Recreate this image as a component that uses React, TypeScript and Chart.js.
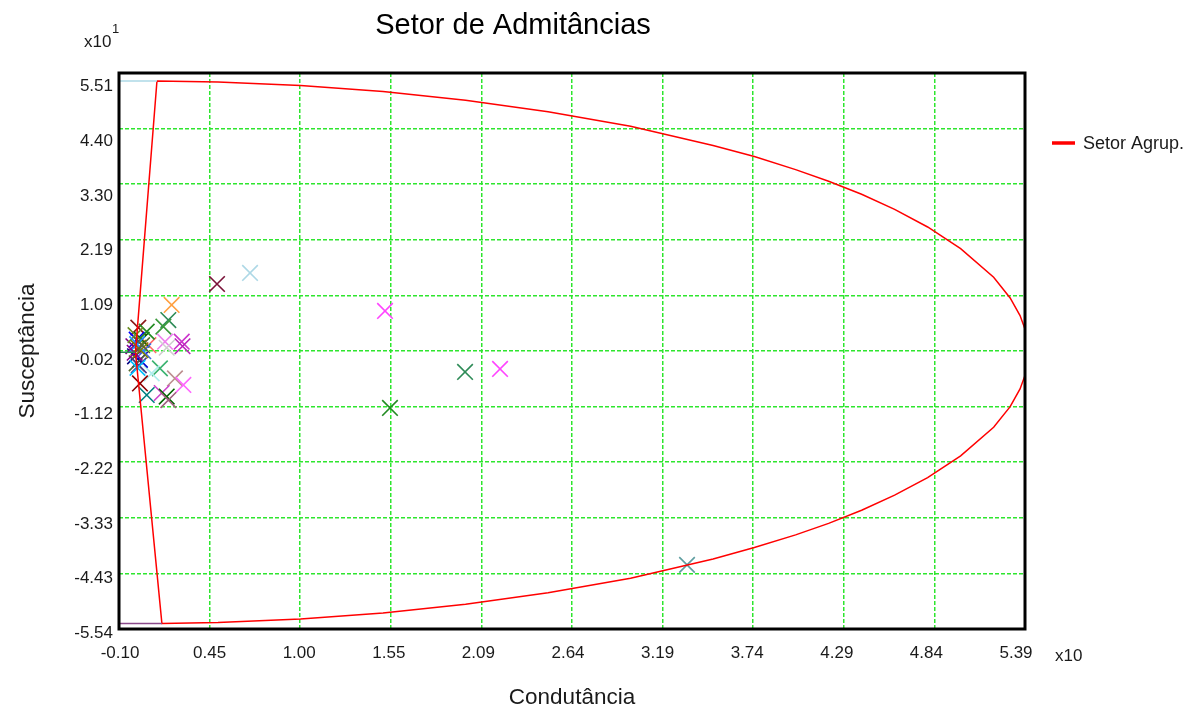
import React, { useEffect, useRef } from 'react';
import { Chart, registerables } from 'chart.js';

Chart.register(...registerables);

const FONT = "'Liberation Sans', Arial, sans-serif";

const X_MIN = -0.1;
const X_MAX = 5.39;
const Y_MIN = -5.54;
const Y_MAX = 5.51;

const xTickLabels = ['-0.10', '0.45', '1.00', '1.55', '2.09', '2.64', '3.19', '3.74', '4.29', '4.84', '5.39'];
const yTickLabels = ['5.51', '4.40', '3.30', '2.19', '1.09', '-0.02', '-1.12', '-2.22', '-3.33', '-4.43', '-5.54'];

const chartTitle = 'Setor de Admitâncias';
const xAxisTitle = 'Condutância';
const yAxisTitle = 'Susceptância';
const seriesName = 'Setor Agrup.';

// Sector outline (Setor Agrup.): upper arc, lower arc, then the two straight sides
const sectorX = [
  0.13, 0.5, 1.0, 1.5, 2.0, 2.5, 3.0, 3.5, 3.75, 4.0, 4.2, 4.4, 4.6, 4.8, 5.0, 5.2, 5.3, 5.36, 5.39, 5.41,
  5.39, 5.36, 5.3, 5.2, 5.0, 4.8, 4.6, 4.4, 4.2, 4.0, 3.75, 3.5, 3.0, 2.5, 2.0, 1.5, 1.0, 0.5, 0.16,
  0.0, 0.13,
];
const sectorY = [
  5.35, 5.33, 5.26, 5.14, 4.97, 4.74, 4.45, 4.07, 3.85, 3.59, 3.36, 3.1, 2.8, 2.45, 2.02, 1.45, 1.04, 0.69, 0.42, -0.04,
  -0.5, -0.77, -1.12, -1.53, -2.1, -2.53, -2.88, -3.18, -3.44, -3.67, -3.92, -4.15, -4.53, -4.82, -5.05, -5.22, -5.34, -5.41, -5.43,
  -0.04, 5.35,
];

// short reference lines at the left border
const topLineX = [-0.1, 0.13];
const topLineY = [5.35, 5.35];
const bottomLineX = [-0.1, 0.16];
const bottomLineY = [-5.43, -5.43];
const midLineX = [-0.1, 0.0];
const midLineY = [-0.04, -0.04];

// Admittance markers
const markerX = [
  0.494, 0.694, 1.512, 1.997, 2.209, 1.542, 3.342,
  0.219, 0.199, 0.169, 0.179, 0.189, 0.28, 0.285, 0.078, 0.148, 0.098, 0.239, 0.29, 0.027, 0.068, 0.159, 0.189, 0.199,
  0.017, 0.007, 0.017, -0.003, 0.027, 0.007, -0.013, 0.037, 0.068, 0.047, 0.0, 0.02, 0.01, 0.03, -0.005, 0.012, 0.04,
];
const markerY = [
  1.317, 1.536, 0.781, -0.431, -0.372, -1.147, -4.266,
  0.9, 0.6, 0.47, 0.17, 0.05, 0.17, 0.08, 0.1, -0.36, -0.46, -0.56, -0.69, -0.66, -0.89, -0.85, -0.92, -0.99,
  0.45, 0.21, 0.05, -0.12, -0.19, -0.26, 0.08, 0.21, 0.37, -0.02, 0.3, -0.3, 0.12, 0.0, -0.05, -0.35, 0.1,
];
const markerColors = [
  '#7a1238', '#add8e6', '#ff44ff', '#2e8b57', '#ff44ff', '#228b22', '#5f9ea0',
  '#ffa040', '#2e8b57', '#3c9a3c', '#ee82ee', '#cfcfcf', '#cc33cc', '#bb22bb', '#ff6a6a', '#3cb371', '#afeeee', '#bc8f8f', '#ff66ff', '#8b0000', '#008080', '#cc44cc', '#006400', '#a0607f',
  '#8b1a1a', '#0000ff', '#808000', '#000080', '#0000cd', '#556b2f', '#800080', '#006400', '#228b22', '#4169e1', '#6b8e23', '#483d8b', '#1e90ff', '#808000', '#8b008b', '#00bfff', '#556b2f',
];

const toPts = (xs: number[], ys: number[]) => xs.map((x, i) => ({ x, y: ys[i] }));

const overlayPlugin = {
  id: 'overlay',
  afterDatasetsDraw(chart: any) {
    const { ctx, chartArea } = chart;
    const { left, top, right, bottom } = chartArea;
    ctx.save();
    ctx.strokeStyle = '#000';
    ctx.lineWidth = 3;
    ctx.strokeRect(left, top, right - left, bottom - top);
    ctx.restore();
  },
  afterDraw(chart: any) {
    const { ctx } = chart;
    ctx.save();
    ctx.fillStyle = '#000';
    ctx.font = `29px ${FONT}`;
    ctx.textAlign = 'center';
    ctx.textBaseline = 'middle';
    ctx.fillText(chartTitle, 513, 26);
    ctx.fillStyle = '#1a1a1a';
    ctx.textAlign = 'left';
    ctx.font = `17px ${FONT}`;
    ctx.fillText('x10', 84, 42);
    ctx.font = `13px ${FONT}`;
    ctx.fillText('1', 112, 29);
    ctx.font = `17px ${FONT}`;
    ctx.fillText('x10', 1055, 656);
    ctx.strokeStyle = '#ff0000';
    ctx.lineWidth = 3.5;
    ctx.beginPath();
    ctx.moveTo(1052, 143);
    ctx.lineTo(1075, 143);
    ctx.stroke();
    ctx.font = `18px ${FONT}`;
    ctx.fillStyle = '#1a1a1a';
    ctx.fillText(seriesName, 1083, 144);
    ctx.restore();
  },
};

export default function App() {
  const ref = useRef<HTMLCanvasElement>(null);
  useEffect(() => {
    const canvas = ref.current;
    if (!canvas) return;
    const gridOpts = { color: '#2ee62e', lineWidth: 1.5, drawTicks: false };
    const tickFont = { family: FONT, size: 17 };
    const titleFont = { family: FONT, size: 22.5, lineHeight: 1 };
    const chart = new Chart(canvas, {
      type: 'scatter',
      data: {
        datasets: [
          {
            label: 'ref-top',
            data: toPts(topLineX, topLineY),
            showLine: true,
            borderColor: '#add8e6',
            borderWidth: 1.5,
            pointRadius: 0,
          },
          {
            label: 'ref-bottom',
            data: toPts(bottomLineX, bottomLineY),
            showLine: true,
            borderColor: '#8b4a8b',
            borderWidth: 1.5,
            pointRadius: 0,
          },
          {
            label: 'ref-mid',
            data: toPts(midLineX, midLineY),
            showLine: true,
            borderColor: '#2e8b57',
            borderWidth: 1.5,
            pointRadius: 0,
          },
          {
            label: seriesName,
            data: toPts(sectorX, sectorY),
            showLine: true,
            borderColor: '#ff0000',
            borderWidth: 1.5,
            pointRadius: 0,
            tension: 0,
          },
          {
            label: 'markers',
            data: toPts(markerX, markerY),
            showLine: false,
            pointStyle: 'crossRot',
            pointRadius: 11,
            pointBorderWidth: 1.6,
            pointBorderColor: markerColors,
            pointBackgroundColor: markerColors,
          } as any,
        ],
      },
      options: {
        animation: false,
        responsive: true,
        maintainAspectRatio: false,
        events: [],
        layout: { padding: { left: 0, top: 73, right: 160, bottom: 0 } },
        plugins: {
          legend: { display: false },
          title: { display: false },
          tooltip: { enabled: false },
        },
        scales: {
          // data axes: carry the gridlines
          x: {
            type: 'linear',
            position: 'bottom',
            min: X_MIN,
            max: X_MAX,
            afterBuildTicks: (scale: any) => {
              scale.ticks = xTickLabels.map((_, i) => ({ value: X_MIN + (i * (X_MAX - X_MIN)) / 10 }));
            },
            afterFit: (scale: any) => {
              scale.height = 0;
            },
            ticks: { display: false },
            grid: gridOpts,
            border: { display: false, dash: [4, 2] },
          },
          y: {
            type: 'linear',
            position: 'left',
            min: Y_MIN,
            max: Y_MAX,
            afterBuildTicks: (scale: any) => {
              scale.ticks = yTickLabels.map((_, i) => ({ value: Y_MIN + (i * (Y_MAX - Y_MIN)) / 10 }));
            },
            afterFit: (scale: any) => {
              scale.width = 0;
            },
            ticks: { display: false },
            grid: gridOpts,
            border: { display: false, dash: [4, 2] },
          },
          // label axes: carry the tick labels, placed as in the original rendering
          xl: {
            type: 'linear',
            position: 'bottom',
            min: -0.0112,
            max: 10.1004,
            afterBuildTicks: (scale: any) => {
              scale.ticks = xTickLabels.map((_, i) => ({ value: i }));
            },
            afterFit: (scale: any) => {
              scale.height = 78;
            },
            ticks: {
              autoSkip: false,
              maxRotation: 0,
              padding: 14,
              color: '#1a1a1a',
              font: tickFont,
              callback: (_v: any, i: number) => xTickLabels[i],
            },
            grid: { display: false, drawTicks: false },
            border: { display: false },
            title: {
              display: true,
              text: xAxisTitle,
              color: '#1a1a1a',
              font: titleFont,
              padding: { top: 0, bottom: -2 },
            },
          },
          yl: {
            type: 'linear',
            position: 'left',
            min: 0.0768,
            max: 10.247,
            afterBuildTicks: (scale: any) => {
              scale.ticks = yTickLabels.map((_, i) => ({ value: i }));
            },
            afterFit: (scale: any) => {
              scale.width = 119;
            },
            ticks: {
              autoSkip: false,
              padding: 6,
              color: '#1a1a1a',
              font: tickFont,
              callback: (_v: any, i: number) => yTickLabels[10 - i],
            },
            grid: { display: false, drawTicks: false },
            border: { display: false },
            title: {
              display: true,
              text: yAxisTitle,
              color: '#1a1a1a',
              font: titleFont,
              padding: { top: 17, bottom: 0 },
            },
          },
        },
      },
      plugins: [overlayPlugin],
    } as any);
    return () => chart.destroy();
  }, []);
  return (
    <div style={{ position: 'absolute', left: 0, top: 0, width: 1185, height: 707 }}>
      <canvas ref={ref} />
    </div>
  );
}
